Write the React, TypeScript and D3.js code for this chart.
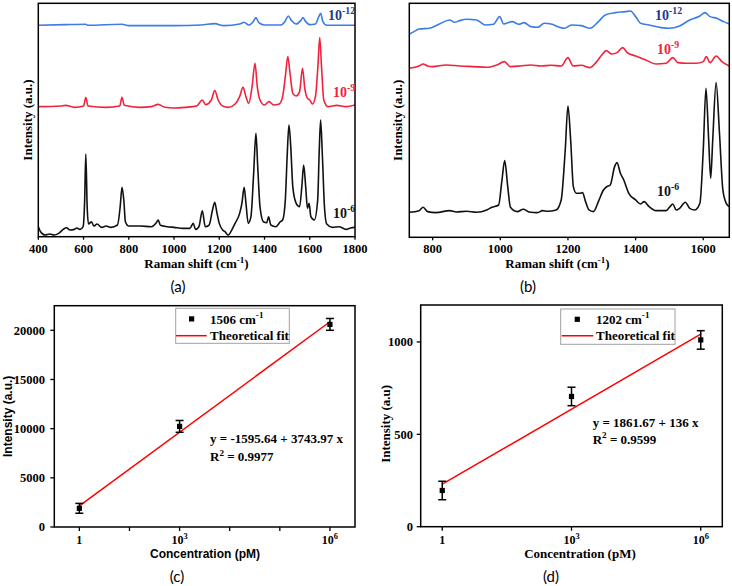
import React from 'react';
import * as d3 from 'd3';

type P = [number, number];

const serif = "'Liberation Serif', 'Times New Roman', 'DejaVu Serif', serif";
const sans = "'Liberation Sans', Arial, 'DejaVu Sans', sans-serif";
const capFont = "Lato, 'Open Sans', sans-serif";

// ---------- Panel (a) spectra (Raman shift, arbitrary intensity) ----------
const ticksA = [400, 600, 800, 1000, 1200, 1400, 1600, 1800];
const specA_6: P[] = [
  [400, 30], [410, 15], [430, 5], [450, 8], [470, 5], [490, 10], [510, 22], [525, 27], [540, 20], [560, 22], [570, 26], [585, 22], [598, 30],
  [605, 110], [610, 248], [616, 90], [622, 38], [635, 45], [645, 32], [660, 38], [680, 28], [700, 32], [720, 28], [750, 35],
  [762, 90], [770, 148], [778, 110], [785, 45], [800, 32], [850, 32], [900, 30], [920, 40], [930, 50], [940, 34], [970, 30],
  [1000, 28], [1040, 25], [1070, 25], [1085, 40], [1095, 22], [1110, 30], [1125, 78], [1138, 30], [1155, 35], [1170, 80],
  [1180, 103], [1190, 70], [1200, 40], [1215, 20], [1225, 15], [1240, 5], [1255, 20], [1270, 40], [1290, 70], [1300, 100],
  [1310, 148], [1318, 100], [1328, 40], [1340, 60], [1352, 190], [1362, 310], [1370, 210], [1380, 90], [1395, 45], [1410, 42],
  [1418, 60], [1428, 35], [1450, 30], [1470, 45], [1480, 50], [1492, 110], [1500, 240], [1508, 335], [1516, 270], [1525, 150],
  [1540, 100], [1555, 90], [1565, 150], [1573, 215], [1582, 150], [1590, 85], [1597, 100], [1605, 60], [1620, 50], [1635, 110],
  [1642, 260], [1648, 350], [1656, 240], [1665, 90], [1675, 38], [1700, 28], [1730, 30], [1760, 22], [1780, 26], [1800, 28],
];
const specA_9: P[] = [
  [400, 390], [500, 392], [520, 394], [560, 388], [600, 392], [610, 417], [620, 392], [700, 388], [760, 392], [770, 418], [780, 394],
  [850, 388], [900, 390], [930, 397], [960, 388], [1000, 386], [1050, 388], [1100, 392], [1125, 410], [1140, 396], [1165, 410],
  [1180, 438], [1195, 410], [1215, 392], [1240, 388], [1270, 398], [1290, 420], [1305, 448], [1318, 420], [1330, 400], [1345, 450],
  [1358, 520], [1368, 450], [1380, 410], [1400, 395], [1420, 405], [1440, 395], [1465, 398], [1480, 420], [1492, 480], [1503, 540],
  [1512, 495], [1525, 430], [1540, 422], [1555, 435], [1568, 505], [1578, 445], [1590, 415], [1600, 410], [1612, 398], [1625, 420],
  [1636, 510], [1644, 597], [1652, 510], [1662, 410], [1680, 390], [1720, 394], [1760, 390], [1800, 395],
];
const specA_12: P[] = [
  [400, 634], [520, 636], [610, 637], [620, 634], [770, 637], [800, 633], [1000, 633], [1120, 635], [1180, 639], [1220, 633],
  [1290, 638], [1310, 643], [1330, 635], [1350, 645], [1362, 657], [1375, 642], [1400, 635], [1470, 635], [1490, 645], [1505, 662],
  [1520, 648], [1540, 638], [1560, 648], [1570, 657], [1582, 645], [1600, 636], [1625, 638], [1640, 660], [1648, 670], [1658, 645],
  [1675, 634], [1800, 634],
];

// ---------- Panel (b) spectra ----------
const ticksB = [800, 1000, 1200, 1400, 1600];
const specB_6: P[] = [
  [731, 75], [760, 80], [772, 90], [785, 77], [810, 74], [850, 80], [870, 76], [900, 78], [930, 75], [960, 82], [975, 90], [995, 97],
  [1005, 172], [1013, 230], [1022, 152], [1030, 90], [1050, 77], [1068, 84], [1085, 76], [1110, 74], [1125, 80], [1140, 78],
  [1165, 82], [1180, 112], [1192, 262], [1200, 394], [1208, 292], [1216, 152], [1225, 132], [1235, 132], [1243, 134], [1252, 107],
  [1262, 82], [1275, 77], [1290, 107], [1305, 142], [1315, 152], [1325, 157], [1338, 212], [1345, 224], [1355, 192], [1365, 172],
  [1380, 132], [1400, 112], [1415, 100], [1425, 107], [1440, 92], [1460, 80], [1490, 80], [1500, 90], [1510, 100], [1520, 82],
  [1530, 87], [1547, 105], [1560, 87], [1575, 82], [1590, 102], [1600, 262], [1608, 447], [1616, 292], [1622, 177], [1628, 292],
  [1638, 464], [1648, 312], [1658, 142], [1668, 102], [1677, 92],
];
const specB_9: P[] = [
  [731, 507], [760, 514], [772, 520], [785, 514], [800, 512], [840, 517], [880, 514], [920, 512], [960, 510], [990, 517], [1012, 527],
  [1030, 512], [1060, 514], [1090, 517], [1120, 514], [1150, 516], [1180, 514], [1200, 539], [1215, 514], [1240, 516], [1265, 509],
  [1285, 527], [1300, 547], [1313, 560], [1330, 550], [1345, 554], [1362, 569], [1375, 554], [1400, 544], [1430, 532], [1460, 520],
  [1490, 522], [1510, 539], [1525, 524], [1550, 522], [1580, 522], [1600, 527], [1609, 542], [1620, 524], [1638, 544], [1655, 527],
  [1677, 514],
];
const specB_12: P[] = [
  [731, 609], [745, 617], [760, 625], [790, 627], [820, 640], [850, 652], [865, 645], [880, 650], [900, 654], [930, 652], [955, 637],
  [980, 639], [998, 662], [1010, 640], [1035, 647], [1055, 639], [1070, 644], [1090, 632], [1110, 630], [1130, 642], [1150, 640],
  [1175, 630], [1190, 627], [1210, 637], [1240, 635], [1265, 627], [1290, 647], [1310, 667], [1340, 674], [1370, 677], [1385, 679],
  [1400, 662], [1415, 642], [1440, 637], [1475, 629], [1500, 627], [1530, 634], [1560, 652], [1590, 664], [1605, 674], [1620, 662],
  [1640, 657], [1660, 647], [1677, 640],
];

// ---------- Panel (c) calibration at 1506 cm-1 ----------
const cX = [1, 3, 6];
const cY = [1900, 10230, 20600];
const cErr = [500, 600, 600];
const cFitX = [1, 6];
const cFitY = [2150, 20870];
const cTicks = [1, 2, 3, 4, 5, 6];
const cTickLabels: Record<number, [string, string]> = { 1: ['1', ''], 3: ['10', '3'], 6: ['10', '6'] };
const cYTicks = [0, 5000, 10000, 15000, 20000];

// ---------- Panel (d) calibration at 1202 cm-1 ----------
const dX = [1, 1e3, 1e6];
const dY = [196, 705, 1011];
const dErr = [50, 50, 50];
const dFitX = [1, 1e6];
const dFitY = [230, 1042];
const dTicks: [number, string, string][] = [[1, '1', ''], [1e3, '10', '3'], [1e6, '10', '6']];
const dYTicks = [0, 500, 1000];

const BLUE = '#3b7de4';
const BLUE_LABEL = '#1c3b8c';
const RED = '#f2223c';
const BLACK = '#111111';

function SupText(props: { x: number; y: number; base: string; sup: string; after?: string; fs: number; fill?: string; anchor?: string; family?: string; weight?: string }) {
  const { x, y, base, sup, after, fs, fill = '#000', anchor = 'start', family = serif, weight = 'bold' } = props;
  const up = fs * 0.4;
  return (
    <text x={x} y={y} fill={fill} textAnchor={anchor as any} style={{ fontFamily: family, fontWeight: weight as any, fontSize: fs }}>
      <tspan>{base}</tspan>
      {sup ? <tspan dy={-up} style={{ fontSize: fs * 0.7 }}>{sup}</tspan> : null}
      {after !== undefined ? <tspan dy={sup ? up : 0}>{after}</tspan> : null}
    </text>
  );
}

const serifBold = (fs: number) => ({ fontFamily: serif, fontWeight: 700, fontSize: fs });
const sansBold = (fs: number) => ({ fontFamily: sans, fontWeight: 700, fontSize: fs });
const capStyle = { fontFamily: capFont, fontSize: 15 };

function SpectrumPanel(props: {
  id: string; x0: number; x1: number; y0: number; y1: number; xDomain: [number, number]; yDomain: [number, number];
  ticks: number[]; series: { data: P[]; color: string }[]; labels: { x: number; y: number; sup: string; color: string }[];
  yTitleX: number; xTitleX: number; cap: string; capX: number;
}) {
  const { id, x0, x1, y0, y1, xDomain, yDomain, ticks, series, labels, yTitleX, xTitleX, cap, capX } = props;
  const x = d3.scaleLinear().domain(xDomain).range([x0, x1]);
  const y = d3.scaleLinear().domain(yDomain).range([y1, y0]);
  const line = d3.line<P>().x(d => x(d[0])).y(d => y(d[1])).curve(d3.curveMonotoneX);
  return (
    <g>
      <defs>
        <clipPath id={id}><rect x={x0} y={y0} width={x1 - x0} height={y1 - y0} /></clipPath>
      </defs>
      <g clipPath={`url(#${id})`}>
        {series.map((s, i) => (
          <path key={i} d={line(s.data) || ''} fill="none" stroke={s.color} strokeWidth={1.6} strokeLinejoin="round" />
        ))}
      </g>
      <rect x={x0} y={y0} width={x1 - x0} height={y1 - y0} fill="none" stroke="#000" strokeWidth={1.5} />
      {ticks.map(t => (
        <g key={t}>
          <line x1={x(t)} x2={x(t)} y1={y1} y2={y1 + 3} stroke="#000" strokeWidth={1.3} />
          <text x={x(t)} y={253} textAnchor="middle" style={serifBold(12.5)}>{t}</text>
        </g>
      ))}
      {labels.map((l, i) => (
        <SupText key={i} x={l.x} y={l.y} base="10" sup={l.sup} fs={14} fill={l.color} />
      ))}
      <text transform={`translate(${yTitleX},${(y0 + y1) / 2}) rotate(-90)`} textAnchor="middle" style={serifBold(13)}>Intensity (a.u.)</text>
      <SupText x={xTitleX} y={268} base="Raman shift (cm" sup="-1" after=")" fs={13} anchor="middle" />
      <text x={capX} y={292} textAnchor="middle" style={capStyle}>{cap}</text>
    </g>
  );
}

function ErrPoint(props: { cx: number; cy: number; top: number; bot: number }) {
  const { cx, cy, top, bot } = props;
  return (
    <g>
      <line x1={cx} x2={cx} y1={top} y2={bot} stroke="#000" strokeWidth={1.5} />
      <line x1={cx - 4} x2={cx + 4} y1={top} y2={top} stroke="#000" strokeWidth={1.5} />
      <line x1={cx - 4} x2={cx + 4} y1={bot} y2={bot} stroke="#000" strokeWidth={1.5} />
      <rect x={cx - 2.6} y={cy - 2.6} width={5.2} height={5.2} fill="#000" />
    </g>
  );
}

function PanelC() {
  const x0 = 54.3, x1 = 355, y0 = 305.7, y1 = 527;
  const x = d3.scaleLinear().domain([0.5, 6.5]).range([x0, x1]);
  const y = d3.scaleLinear().domain([0, 22500]).range([y1, y0]);
  const fit = d3.line<number>().x((_, i) => x(cFitX[i])).y(d => y(d));
  return (
    <g>
      <rect x={x0} y={y0} width={x1 - x0} height={y1 - y0} fill="none" stroke="#000" strokeWidth={1.5} />
      {cTicks.map(t => (
        <g key={t}>
          <line x1={x(t)} x2={x(t)} y1={y1} y2={y1 + 4} stroke="#000" strokeWidth={1.3} />
          {cTickLabels[t] ? <SupText x={x(t)} y={543.5} base={cTickLabels[t][0]} sup={cTickLabels[t][1]} fs={12} anchor="middle" /> : null}
        </g>
      ))}
      {cYTicks.map(t => (
        <g key={t}>
          <line x1={x0 - 4} x2={x0} y1={y(t)} y2={y(t)} stroke="#000" strokeWidth={1.3} />
          <text x={45} y={y(t) + 4.3} textAnchor="end" style={serifBold(12.5)}>{t}</text>
        </g>
      ))}
      <path d={fit(cFitY) || ''} stroke="#ff0000" strokeWidth={1.5} fill="none" />
      {cX.map((v, i) => (
        <ErrPoint key={i} cx={x(v)} cy={y(cY[i])} top={y(cY[i] + cErr[i])} bot={y(cY[i] - cErr[i])} />
      ))}
      <rect x={175.7} y={308.3} width={113.6} height={35} fill="#fff" stroke="#a0a0a0" strokeWidth={1} />
      <rect x={189} y={316.3} width={5.2} height={5.2} fill="#000" />
      <SupText x={210} y={323.5} base="1506 cm" sup="-1" fs={13} />
      <line x1={176} x2={206.7} y1={335.7} y2={335.7} stroke="#ff0000" strokeWidth={1.5} />
      <text x={210} y={339.8} style={serifBold(13)}>Theoretical fit</text>
      <text x={210} y={443} style={serifBold(13)}>y = -1595.64 + 3743.97 x</text>
      <SupText x={210} y={461} base="R" sup="2" after=" = 0.9977" fs={13} />
      <text transform={`translate(12,${(y0 + y1) / 2}) rotate(-90)`} textAnchor="middle" style={sansBold(12)}>Intensity (a.u.)</text>
      <text x={205} y={558} textAnchor="middle" style={sansBold(12)}>Concentration (pM)</text>
      <text x={177} y={582} textAnchor="middle" style={capStyle}>(c)</text>
    </g>
  );
}

function PanelD() {
  const x0 = 420.7, x1 = 722.3, y0 = 305, y1 = 526.7;
  const x = d3.scaleLog().domain([Math.pow(10, -0.5), Math.pow(10, 6.5)]).range([x0, x1]);
  const y = d3.scaleLinear().domain([0, 1200]).range([y1, y0]);
  const fit = d3.line<number>().x((_, i) => x(dFitX[i])).y(d => y(d));
  return (
    <g>
      <rect x={x0} y={y0} width={x1 - x0} height={y1 - y0} fill="none" stroke="#000" strokeWidth={1.5} />
      {dTicks.map(([t, b, s]) => (
        <g key={t}>
          <line x1={x(t)} x2={x(t)} y1={y1} y2={y1 + 4} stroke="#000" strokeWidth={1.3} />
          <SupText x={x(t)} y={543.5} base={b} sup={s} fs={12} anchor="middle" />
        </g>
      ))}
      {dYTicks.map(t => (
        <g key={t}>
          <line x1={x0 - 4} x2={x0} y1={y(t)} y2={y(t)} stroke="#000" strokeWidth={1.3} />
          <text x={413} y={y(t) + 4.3} textAnchor="end" style={serifBold(12.5)}>{t}</text>
        </g>
      ))}
      <path d={fit(dFitY) || ''} stroke="#ff0000" strokeWidth={1.5} fill="none" />
      {dX.map((v, i) => (
        <ErrPoint key={i} cx={x(v)} cy={y(dY[i])} top={y(dY[i] + dErr[i])} bot={y(dY[i] - dErr[i])} />
      ))}
      <rect x={560.7} y={309} width={114.3} height={35.3} fill="#fff" stroke="#a0a0a0" strokeWidth={1} />
      <rect x={574.7} y={316.7} width={5.2} height={5.2} fill="#000" />
      <SupText x={596} y={323.5} base="1202 cm" sup="-1" fs={13} />
      <line x1={561.7} x2={593.3} y1={335.7} y2={335.7} stroke="#ff0000" strokeWidth={1.5} />
      <text x={596} y={340} style={serifBold(13)}>Theoretical fit</text>
      <text x={592.7} y={426.5} style={serifBold(13)}>y = 1861.67 + 136 x</text>
      <SupText x={592.7} y={443.5} base="R" sup="2" after=" = 0.9599" fs={13} />
      <text transform={`translate(390,${(y0 + y1) / 2 + 8}) rotate(-90)`} textAnchor="middle" style={serifBold(13)}>Intensity (a.u)</text>
      <text x={580} y={558} textAnchor="middle" style={serifBold(13)}>Concentration (pM)</text>
      <text x={551} y={582} textAnchor="middle" style={capStyle}>(d)</text>
    </g>
  );
}

export default function App() {
  return (
    <div style={{ position: 'absolute', left: 0, top: 0 }}>
      <svg width={732} height={586} viewBox="0 0 732 586" style={{ display: 'block', background: '#fff' }}>
        <rect x={0} y={0} width={732} height={586} fill="#fff" />
        <SpectrumPanel
          id="clipA" x0={38.3} x1={355} y0={3.3} y1={236.7} xDomain={[400, 1800]} yDomain={[0, 700]} ticks={ticksA}
          series={[{ data: specA_6, color: BLACK }, { data: specA_9, color: RED }, { data: specA_12, color: BLUE }]}
          labels={[{ x: 328, y: 20, sup: '-12', color: BLUE_LABEL }, { x: 333, y: 97, sup: '-9', color: RED }, { x: 333, y: 218, sup: '-6', color: BLACK }]}
          yTitleX={31.5} xTitleX={196.5} cap="(a)" capX={178}
        />
        <SpectrumPanel
          id="clipB" x0={409.3} x1={729.3} y0={3.3} y1={237.3} xDomain={[731, 1677]} yDomain={[0, 702]} ticks={ticksB}
          series={[{ data: specB_6, color: BLACK }, { data: specB_9, color: RED }, { data: specB_12, color: BLUE }]}
          labels={[{ x: 655, y: 20, sup: '-12', color: BLUE_LABEL }, { x: 657, y: 54, sup: '-9', color: RED }, { x: 657, y: 196, sup: '-6', color: BLACK }]}
          yTitleX={401.5} xTitleX={557.5} cap="(b)" capX={528}
        />
        <PanelC />
        <PanelD />
      </svg>
    </div>
  );
}
